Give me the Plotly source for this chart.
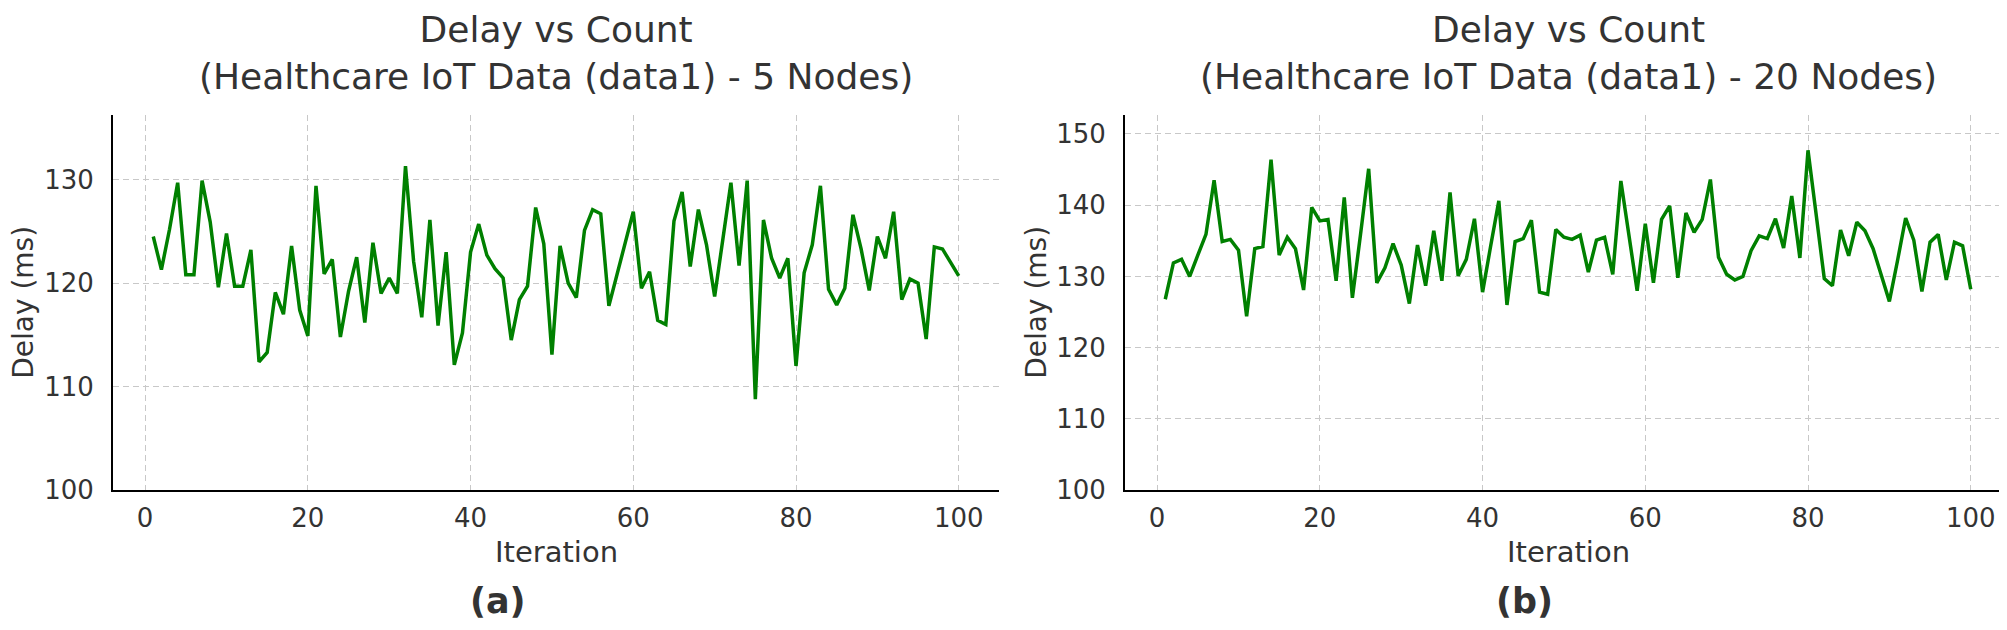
import plotly.graph_objects as go

iterations = list(range(1, 101))

delay_5_nodes = [
    124.5, 121.3, 125.2, 129.7, 120.8, 120.8, 129.9, 125.9, 119.6, 124.8,
    119.7, 119.7, 123.2, 112.4, 113.3, 119.1, 117.0, 123.6, 117.4, 114.9,
    129.4, 120.9, 122.3, 114.8, 119.2, 122.5, 116.2, 123.9, 119.0, 120.5,
    119.0, 131.3, 122.1, 116.7, 126.1, 115.9, 123.0, 112.1, 115.2, 123.0,
    125.7, 122.7, 121.4, 120.5, 114.5, 118.4, 119.7, 127.3, 123.8, 113.1,
    123.6, 120.0, 118.6, 125.1, 127.1, 126.7, 117.8, 120.9, 123.8, 126.9,
    119.5, 121.1, 116.4, 116.0, 126.0, 128.8, 121.6, 127.1, 123.7, 118.7,
    124.2, 129.7, 121.7, 129.9, 108.8, 126.1, 122.4, 120.5, 122.4, 112.0,
    121.0, 123.7, 129.4, 119.4, 117.9, 119.5, 126.6, 123.3, 119.3, 124.5,
    122.4, 126.9, 118.4, 120.4, 120.0, 114.6, 123.5, 123.3, 122.0, 120.7,
]

delay_20_nodes = [
    126.8, 131.9, 132.4, 130.0, 133.0, 135.9, 143.5, 134.9, 135.2, 133.7,
    124.4, 133.9, 134.2, 146.4, 133.0, 135.5, 133.9, 128.1, 139.7, 137.8,
    138.0, 129.4, 141.1, 127.0, 135.9, 145.1, 129.1, 131.2, 134.6, 131.6,
    126.2, 134.4, 128.7, 136.4, 129.4, 141.8, 130.1, 132.4, 138.1, 127.8,
    134.3, 140.6, 126.0, 134.9, 135.3, 137.9, 127.8, 127.5, 136.6, 135.5,
    135.2, 135.8, 130.6, 135.1, 135.5, 130.3, 143.4, 135.7, 128.0, 137.4,
    129.1, 138.0, 139.9, 129.8, 138.9, 136.2, 138.0, 143.6, 132.7, 130.3,
    129.5, 130.0, 133.6, 135.7, 135.3, 138.1, 134.0, 141.3, 132.6, 147.7,
    138.5, 129.7, 128.7, 136.5, 132.9, 137.6, 136.4, 133.9, 130.2, 126.5,
    132.2, 138.2, 135.1, 127.9, 134.8, 135.9, 129.5, 134.8, 134.3, 128.2,
]

x_ticks = [0, 20, 40, 60, 80, 100]
y_ticks_5 = [100, 110, 120, 130]
y_ticks_20 = [100, 110, 120, 130, 140, 150]

titles = [
    "Delay vs Count<br>(Healthcare IoT Data (data1) - 5 Nodes)",
    "Delay vs Count<br>(Healthcare IoT Data (data1) - 20 Nodes)",
]
panel_labels = ["(a)", "(b)"]
x_label = "Iteration"
y_label = "Delay (ms)"

W, H = 2007, 630
FONT = "DejaVu Sans, Verdana, sans-serif"
TXT = "#333333"
GREEN = "#008000"

fig = go.Figure()
fig.add_trace(go.Scatter(x=iterations, y=delay_5_nodes, mode="lines",
                         line=dict(color=GREEN, width=3.5), xaxis="x", yaxis="y",
                         showlegend=False))
fig.add_trace(go.Scatter(x=iterations, y=delay_20_nodes, mode="lines",
                         line=dict(color=GREEN, width=3.5), xaxis="x2", yaxis="y2",
                         showlegend=False))

ydom = [1 - 494 / H, 1 - 110 / H]
dom1 = [105 / W, 991 / W]
dom2 = [1117 / W, 2003 / W]

def xaxis(domain, anchor):
    return dict(domain=domain, anchor=anchor, range=[-3.95, 104.95],
                tickvals=x_ticks, showgrid=True, gridcolor="#c8c8c8",
                griddash="6px,4px", gridwidth=1.2, zeroline=False,
                showline=True, linecolor="#000000", linewidth=1.8,
                ticks="", ticklabelstandoff=4,
                tickfont=dict(family=FONT, size=26, color=TXT))

def yaxis(domain, anchor, rng, ticks):
    return dict(domain=domain, anchor=anchor, range=rng,
                tickvals=ticks, showgrid=True, gridcolor="#c8c8c8",
                griddash="6px,4px", gridwidth=1.2, zeroline=False,
                showline=True, linecolor="#000000", linewidth=1.8,
                ticks="", ticklabelstandoff=12,
                tickfont=dict(family=FONT, size=26, color=TXT))

fig.update_layout(
    width=W, height=H,
    margin=dict(l=0, r=0, t=0, b=0),
    paper_bgcolor="white", plot_bgcolor="white",
    xaxis=xaxis(dom1, "y"),
    yaxis=yaxis(ydom, "x", [100, 136.2], y_ticks_5),
    xaxis2=xaxis(dom2, "y2"),
    yaxis2=yaxis(ydom, "x2", [100, 152.6], y_ticks_20),
)

annotations = []
centers = [(dom1[0] + dom1[1]) / 2, (dom2[0] + dom2[1]) / 2]
ylab_x = [16 / W, 1029 / W]
panel_x = [490 / W, 1516 / W]
for k in range(2):
    annotations.append(dict(text=titles[k], x=centers[k], y=1.0,
                            xref="paper", yref="paper", showarrow=False,
                            xanchor="center", yanchor="top", borderpad=0,
                            font=dict(family=FONT, size=36, color=TXT)))
    annotations.append(dict(text=x_label, x=centers[k], y=1 - 557 / H,
                            xref="paper", yref="paper", showarrow=False,
                            xanchor="center", yanchor="middle",
                            font=dict(family=FONT, size=29, color=TXT)))
    annotations.append(dict(text=y_label, x=ylab_x[k], y=1 - 302 / H,
                            xref="paper", yref="paper", showarrow=False,
                            xanchor="center", yanchor="middle", textangle=-90,
                            font=dict(family=FONT, size=28, color=TXT)))
    annotations.append(dict(text="<b>" + panel_labels[k] + "</b>", x=panel_x[k],
                            y=1 - 607 / H, xref="paper", yref="paper",
                            showarrow=False, xanchor="center", yanchor="middle",
                            font=dict(family=FONT, size=35, color=TXT)))
fig.update_layout(annotations=annotations)

fig.write_html("out.html")
